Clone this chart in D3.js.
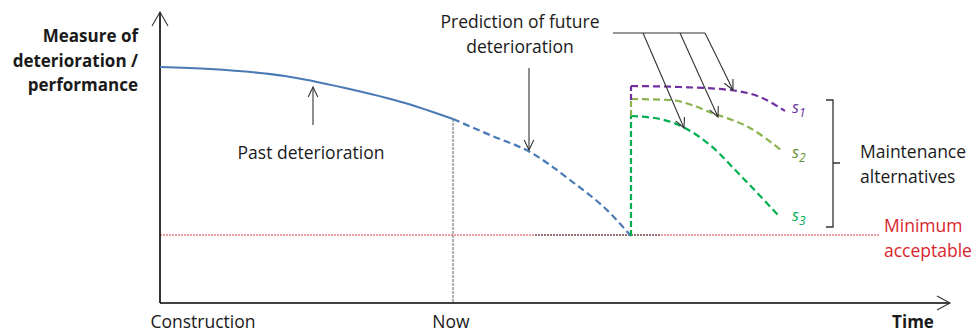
<!DOCTYPE html>
<html><head><meta charset="utf-8">
<script src="https://cdn.jsdelivr.net/npm/d3@7"></script>
<style>
html,body{margin:0;padding:0;background:#fff;}
svg{display:block;font-family:"Open Sans","Noto Sans",sans-serif;}
</style></head>
<body>
<svg id="c" width="976" height="332"></svg>
<script>
// ---- data (time units, condition units) ----
const pastT = [0, 5, 12.5, 18.5, 24.5, 29.3];
const pastV = [23.6, 23.4, 22.7, 21.5, 20.0, 18.4];
const predT = [29.3, 33, 37, 41, 45, 47.1];
const predV = [18.4, 16.8, 15.1, 12.3, 9.0, 6.7];
const s1T = [47.1, 47.1, 52, 57, 60, 62.5];
const s1V = [20.3, 21.7, 21.6, 21.3, 20.6, 19.2];
const s2T = [47.1, 47.1, 51, 55.5, 59, 62.1];
const s2V = [18.7, 20.4, 20.3, 18.9, 17.5, 15.3];
const s3T = [47.1, 47.1, 50, 52.5, 55, 58, 61.8];
const s3V = [6.7, 18.7, 18.4, 17.5, 15.8, 12.8, 8.8];
const minimumValue = 6.8;
const nowT = 29.3;
const xTickLabels = ["Construction", "Now"];
const xTickPos = [4.3, 29.1];

const svg = d3.select("#c");
const x = d3.scaleLinear().domain([0, 79]).range([160, 950]);
const y = d3.scaleLinear().domain([0, 29.1]).range([303, 12]);

const zip = (a, b) => a.map((d, i) => [d, b[i]]);
const line = d3.line().x(d => x(d[0])).y(d => y(d[1])).curve(d3.curveMonotoneX);
const straight = d3.line().x(d => x(d[0])).y(d => y(d[1]));

// minimum acceptable line
svg.append("line").attr("x1", x(0)).attr("x2", x(72)).attr("y1", y(minimumValue)).attr("y2", y(minimumValue))
  .attr("stroke", "#e0414a").attr("stroke-width", 1).attr("stroke-dasharray", "2,1");
svg.append("line").attr("x1", x(37.5)).attr("x2", x(50)).attr("y1", y(minimumValue)).attr("y2", y(minimumValue))
  .attr("stroke", "#444").attr("stroke-width", 1).attr("stroke-dasharray", "2,1");

// Now vertical
svg.append("line").attr("x1", x(nowT)).attr("x2", x(nowT)).attr("y1", y(pastV[pastV.length-1])).attr("y2", y(0))
  .attr("stroke", "#555").attr("stroke-width", 0.9).attr("stroke-dasharray", "3,1");

// axes
const ax = svg.append("g").attr("stroke", "#000").attr("stroke-width", 1.6).attr("fill", "none");
ax.append("path").attr("d", `M${x(0)},${y(0)}L${x(0)},${y(29.1)}`);
ax.append("path").attr("d", `M${x(0)},${y(0)}L${x(79)},${y(0)}`);
const arr = svg.append("g").attr("stroke", "#333").attr("stroke-width", 1.1).attr("fill", "none");
arr.append("path").attr("d", `M${x(0)-8},${y(29.1)+14}L${x(0)},${y(29.1)}L${x(0)+8},${y(29.1)+14}`);
arr.append("path").attr("d", `M${x(79)-13},${y(0)-7}L${x(79)},${y(0)}L${x(79)-13},${y(0)+7}`);

// curves
svg.append("path").attr("d", line(zip(pastT, pastV))).attr("fill", "none").attr("stroke", "#4a7ab5").attr("stroke-width", 2.2);
svg.append("path").attr("d", line(zip(predT, predV))).attr("fill", "none").attr("stroke", "#4a7ab5").attr("stroke-width", 2.2).attr("stroke-dasharray", "7,4");

function scen(T, V, color) {
  const pts = zip(T, V);
  svg.append("path").attr("d", straight(pts.slice(0, 2))).attr("fill", "none").attr("stroke", color).attr("stroke-width", 2.2).attr("stroke-dasharray", "6,3");
  svg.append("path").attr("d", line(pts.slice(1))).attr("fill", "none").attr("stroke", color).attr("stroke-width", 2.2).attr("stroke-dasharray", "7,4");
}
scen(s3T, s3V, "#00b050");
scen(s2T, s2V, "#8bb34f");
scen(s1T, s1V, "#7030a0");

// annotation arrows
const ann = svg.append("g").attr("stroke", "#333").attr("stroke-width", 1.1).attr("fill", "none");
function arrow(x1, y1, x2, y2) {
  ann.append("line").attr("x1", x1).attr("y1", y1).attr("x2", x2).attr("y2", y2);
  const a = Math.atan2(y2 - y1, x2 - x1), L = 11, w = 0.45;
  ann.append("path").attr("d", `M${x2 - L*Math.cos(a - w)},${y2 - L*Math.sin(a - w)}L${x2},${y2}L${x2 - L*Math.cos(a + w)},${y2 - L*Math.sin(a + w)}`);
}
arrow(x(15.3), y(17.8), x(15.3), y(21.6));
arrow(x(36.9), y(23.5), x(36.9), y(15.3));
ann.append("line").attr("x1", 613).attr("y1", 33).attr("x2", 705).attr("y2", 33);
arrow(643, 33, x(52.4), y(17.5));
arrow(680, 33, x(55.8), y(18.6));
arrow(705, 33, x(57.3), y(21.3));

// bracket
svg.append("path").attr("d", "M826,100L833,100L833,227L826,227M833,163L840,163")
  .attr("fill", "none").attr("stroke", "#333").attr("stroke-width", 1.3);

// texts
const T = svg.append("g").attr("font-size", 17.5).attr("fill", "#1a1a1a");
const yl = T.append("text").attr("text-anchor", "end").attr("font-weight", "bold").attr("font-size", 17);
["Measure of", "deterioration /", "performance"].forEach((s, i) => yl.append("tspan").attr("x", 138).attr("y", 42 + i * 24.5).text(s));
xTickLabels.forEach((s, i) => T.append("text").attr("x", x(xTickPos[i])).attr("y", 328).attr("text-anchor", "middle").text(s));
T.append("text").attr("x", 913).attr("y", 328).attr("text-anchor", "middle").attr("font-weight", "bold").attr("font-size", 17).text("Time");
T.append("text").attr("x", 311).attr("y", 159).attr("text-anchor", "middle").text("Past deterioration");
const pr = T.append("text").attr("text-anchor", "middle");
pr.append("tspan").attr("x", 520).attr("y", 28).text("Prediction of future");
pr.append("tspan").attr("x", 520).attr("y", 53).text("deterioration");
const ma = T.append("text").attr("text-anchor", "start");
ma.append("tspan").attr("x", 860).attr("y", 158).text("Maintenance");
ma.append("tspan").attr("x", 860).attr("y", 183).text("alternatives");
const mn = T.append("text").attr("text-anchor", "start").attr("fill", "#d9262e");
mn.append("tspan").attr("x", 884).attr("y", 232).text("Minimum");
mn.append("tspan").attr("x", 884).attr("y", 257).text("acceptable");

function slabel(xp, yp, n, color) {
  const t = svg.append("text").attr("x", xp).attr("y", yp).attr("font-size", 16).attr("font-style", "italic").attr("fill", color);
  t.append("tspan").text("s");
  t.append("tspan").attr("dy", 4).attr("font-size", 12).text(n);
}
slabel(792, 113, "1", "#7030a0");
slabel(792, 158, "2", "#5f8f32");
slabel(792, 221, "3", "#00b050");
</script>
</body></html>
